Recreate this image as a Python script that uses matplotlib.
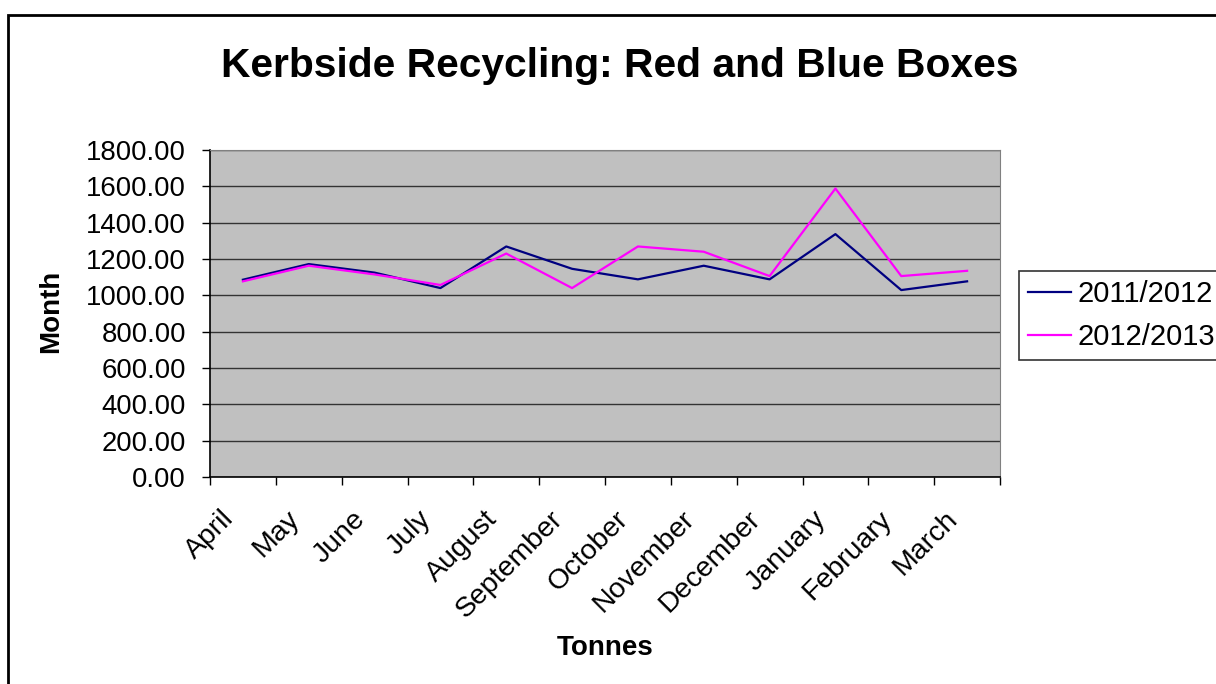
import numpy as np
import matplotlib
matplotlib.use('Agg')
import matplotlib.pyplot as plt
from matplotlib.patches import Rectangle

plt.rcParams['font.family'] = ['Liberation Sans', 'DejaVu Sans']

months = ['April', 'May', 'June', 'July', 'August', 'September', 'October',
          'November', 'December', 'January', 'February', 'March']
tonnes_2011 = [1086, 1172, 1125, 1040, 1269, 1146, 1088, 1163, 1088, 1337, 1029, 1077]
tonnes_2012 = [1077, 1163, 1115, 1057, 1230, 1040, 1269, 1240, 1106, 1588, 1106, 1135]
yticks = np.arange(0, 1801, 200)

W, H = 1216, 684
fig = plt.figure(figsize=(W / 100, H / 100), dpi=100)
ax = fig.add_axes([210/W, 1 - 477/H, 790/W, 327/H])

x = np.arange(len(months))
ax.plot(x, tonnes_2011, color='#000080', lw=1.6, label='2011/2012')
ax.plot(x, tonnes_2012, color='#FF00FF', lw=1.6, label='2012/2013')

ax.set_facecolor('#C0C0C0')
ax.set_xlim(-0.5, len(months) - 0.5)
ax.set_ylim(0, 1800)
ax.set_yticks(yticks, labels=['%.2f' % v for v in yticks])
ax.yaxis.grid(True, color='#333333', lw=1)
ax.set_axisbelow(True)

# category ticks sit between the months, labels go in the middle
ax.set_xticks(np.arange(-0.5, len(months), 1))
ax.set_xticklabels([])
ax.tick_params(axis='x', length=5.8, width=1, direction='out')
ax.tick_params(axis='y', length=5.8, width=1, direction='out', labelsize=19.8, pad=11.5)

# px -> pt: 0.72
for i, m in enumerate(months):
    ax.annotate(m, xy=(i, 0), xycoords=('data', 'axes fraction'),
                xytext=(-13 * 0.72, -38 * 0.72), textcoords='offset points',
                rotation=45, ha='right', va='center', rotation_mode='anchor',
                fontsize=20.5)

for s in ['top', 'right']:
    ax.spines[s].set_color('#808080')
for s in ['left', 'bottom']:
    ax.spines[s].set_color('black')
    ax.spines[s].set_linewidth(1.2)

fig.text(620/W, 1 - 66/H, 'Kerbside Recycling: Red and Blue Boxes',
         ha='center', va='center', fontsize=29.3, fontweight='bold')
fig.text(605/W, 1 - 648/H, 'Tonnes', ha='center', va='center',
         fontsize=20, fontweight='bold')
fig.text(51/W, 1 - 311/H, 'Month', ha='center', va='center',
         fontsize=20, fontweight='bold', rotation=90)

leg = ax.legend(loc='upper left', bbox_to_anchor=(1019/W, 1 - 271/H),
                bbox_transform=fig.transFigure, fontsize=21, frameon=True,
                fancybox=False, edgecolor='black', handlelength=1.47,
                handletextpad=0.24, borderpad=0.3, labelspacing=0.53,
                borderaxespad=0)
leg.get_frame().set_linewidth(1.2)

# outer chart border
fig.add_artist(Rectangle((8/W, -0.1), 1.2, 1.1 - 15/H,
                         transform=fig.transFigure, fill=False,
                         edgecolor='black', lw=2))

fig.savefig('out.png', dpi=100)
